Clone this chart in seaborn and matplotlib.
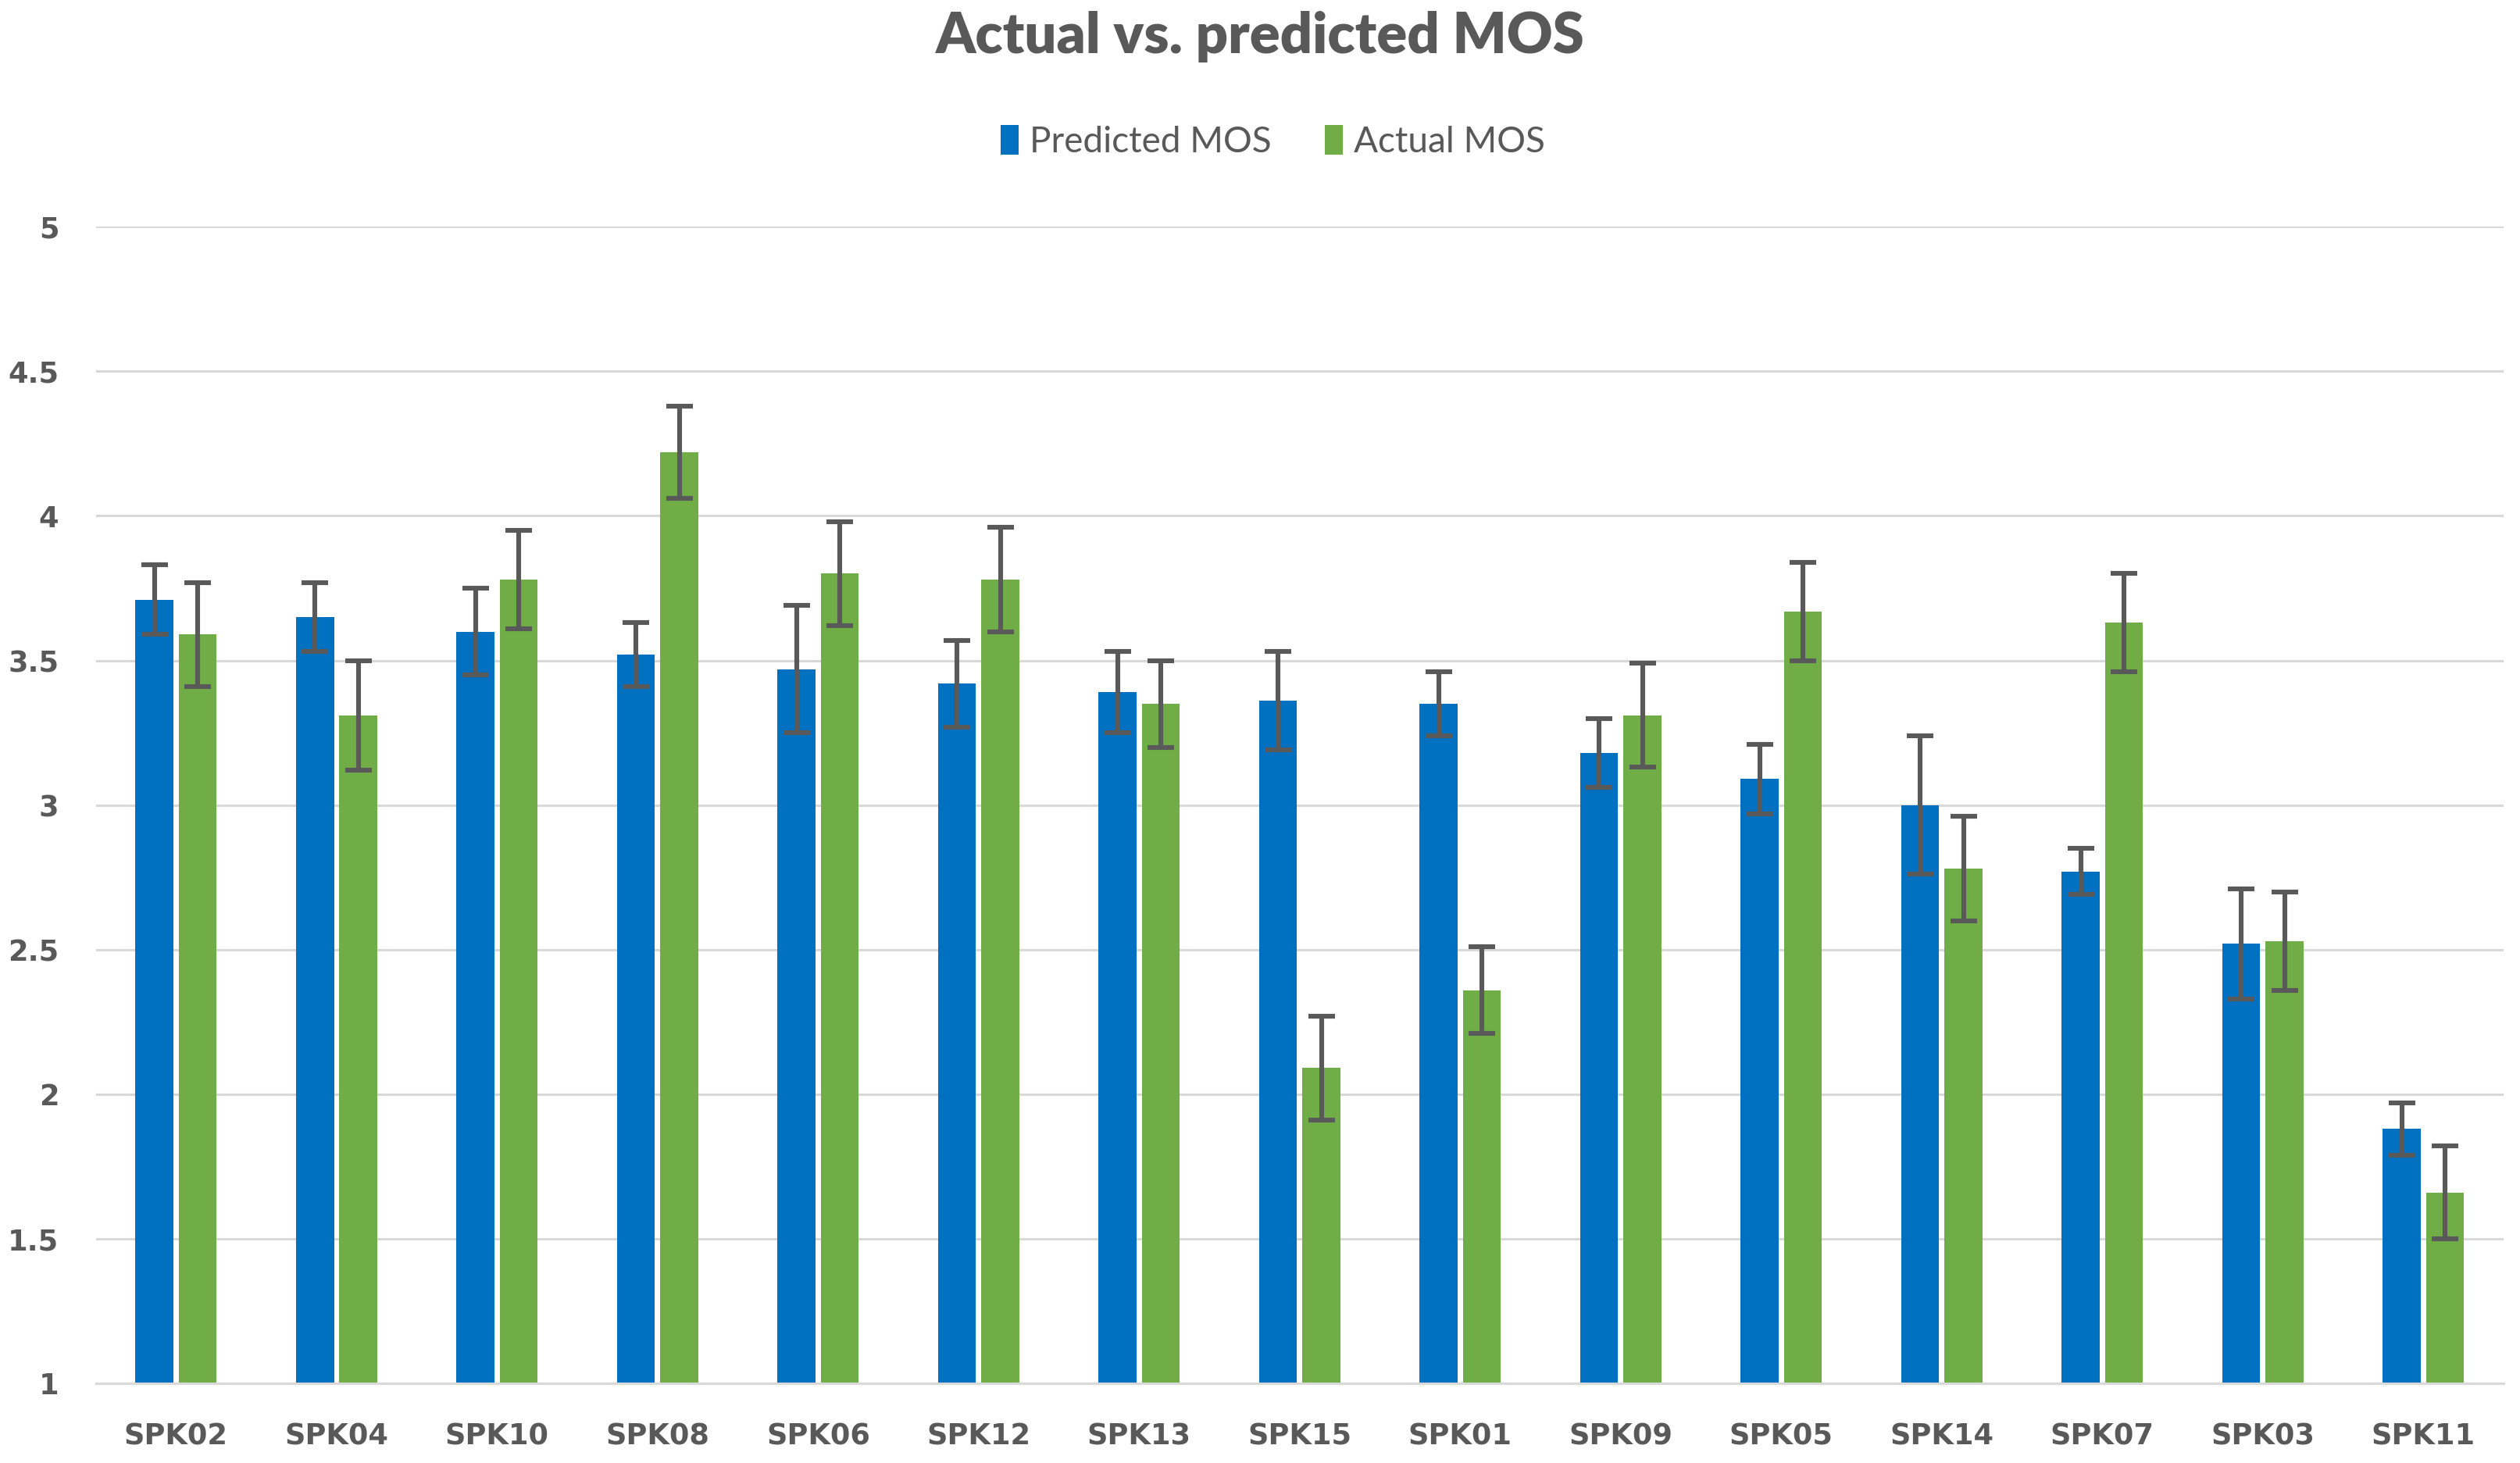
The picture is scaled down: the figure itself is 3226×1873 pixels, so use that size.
import matplotlib
matplotlib.use("Agg")
import matplotlib.pyplot as plt
import seaborn as sns
import pandas as pd
import numpy as np
from matplotlib.patches import Patch

speakers = ["SPK02", "SPK04", "SPK10", "SPK08", "SPK06", "SPK12", "SPK13", "SPK15",
            "SPK01", "SPK09", "SPK05", "SPK14", "SPK07", "SPK03", "SPK11"]
predicted = [3.71, 3.65, 3.60, 3.52, 3.47, 3.42, 3.39, 3.36, 3.35, 3.18, 3.09, 3.00, 2.77, 2.52, 1.88]
predicted_err = [0.12, 0.12, 0.15, 0.11, 0.22, 0.15, 0.14, 0.17, 0.11, 0.12, 0.12, 0.24, 0.08, 0.19, 0.09]
actual = [3.59, 3.31, 3.78, 4.22, 3.80, 3.78, 3.35, 2.09, 2.36, 3.31, 3.67, 2.78, 3.63, 2.53, 1.66]
actual_err = [0.18, 0.19, 0.17, 0.16, 0.18, 0.18, 0.15, 0.18, 0.15, 0.18, 0.17, 0.18, 0.17, 0.17, 0.16]
series = ["Predicted MOS", "Actual MOS"]
colors = ["#0070C0", "#70AD47"]
yticks = [1, 1.5, 2, 2.5, 3, 3.5, 4, 4.5, 5]
ytick_labels = ["1", "1.5", "2", "2.5", "3", "3.5", "4", "4.5", "5"]

df = pd.DataFrame({
    "speaker": speakers * 2,
    "series": [series[0]] * len(speakers) + [series[1]] * len(speakers),
    "mos": predicted + actual,
    "err": predicted_err + actual_err,
})

sns.set_theme(style="white")
plt.rcParams["font.family"] = ["DejaVu Sans"]

fig = plt.figure(figsize=(32.26, 18.73), dpi=100)
ax = fig.add_axes([0.038, 0.0545, 0.9555, 0.7905])

sns.barplot(data=df, x="speaker", y="mos", hue="series", order=speakers,
            hue_order=series, palette=colors, width=0.54, gap=0.12,
            errorbar=None, ax=ax, legend=False, saturation=1, linewidth=0)

ax.set_ylim(1, 5)
ax.set_xlim(-0.5, 14.5)
ax.set_yticks(yticks)
ax.set_yticklabels(ytick_labels)
ax.yaxis.grid(True, color="#D9D9D9", linewidth=2.2)
ax.set_axisbelow(True)
for s in ["top", "right", "left"]:
    ax.spines[s].set_visible(False)
ax.spines["bottom"].set_color("#D9D9D9")
ax.spines["bottom"].set_linewidth(2.2)
ax.set_xlabel("")
ax.set_ylabel("")
ax.tick_params(axis="both", length=0, colors="#595959", labelsize=26.5)
ax.tick_params(axis="y", pad=34)
ax.tick_params(axis="x", pad=36)
for lab in ax.get_xticklabels() + ax.get_yticklabels():
    lab.set_fontweight("bold")
    lab.set_color("#595959")

# error bars at the centres of the bars seaborn drew
n = len(speakers)
bars = [p for p in ax.patches][: 2 * n]
errs = predicted_err + actual_err
xs = [b.get_x() + b.get_width() / 2 for b in bars]
tops = [b.get_height() + b.get_y() for b in bars]
ax.errorbar(xs, tops, yerr=errs, fmt="none", ecolor="#595959",
            elinewidth=4.4, capsize=12, capthick=4.4, zorder=5)

fig.suptitle("Actual vs. predicted MOS", x=0.5, y=0.975, va="center",
             fontsize=52, fontweight="heavy", color="#595959", family="Lato")

handles = [Patch(facecolor=c, edgecolor="none") for c in colors]
fig.legend(handles, series, loc="center", bbox_to_anchor=(0.505, 0.903), ncol=2,
           frameon=False, prop={"family": "Lato", "size": 33},
           labelcolor="#595959", handlelength=0.5, handleheight=0.9,
           handletextpad=0.3, columnspacing=1.5)

fig.savefig("out.png", dpi=100)
